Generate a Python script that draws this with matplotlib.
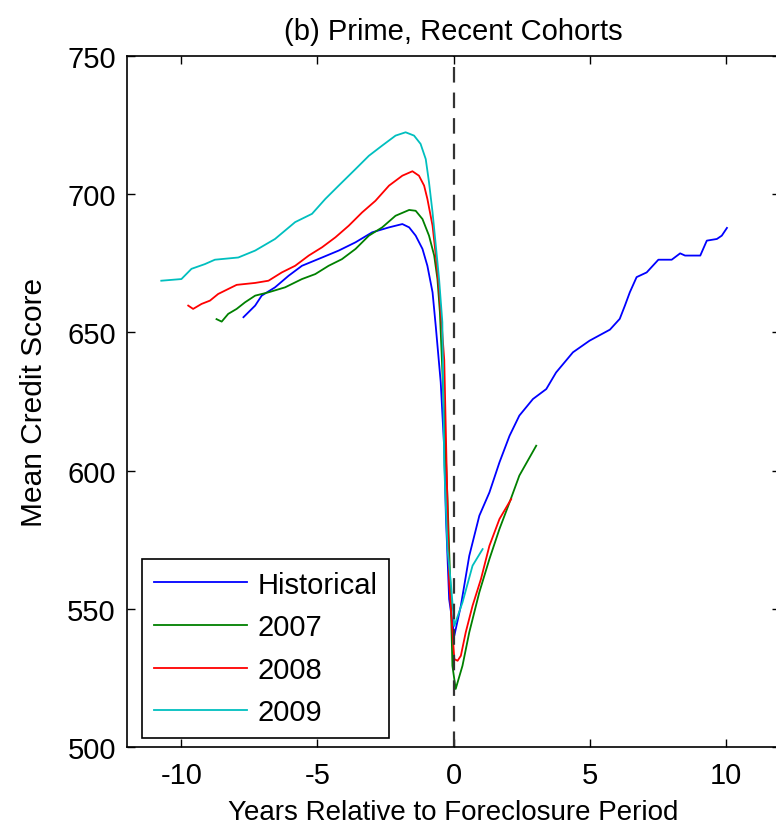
import matplotlib
matplotlib.use('Agg')
import matplotlib.pyplot as plt

plt.rcParams['font.family'] = ['Liberation Sans', 'DejaVu Sans']
plt.rcParams['axes.unicode_minus'] = False

# Historical (blue)
hist_x = [-7.72, -7.29, -7.05, -6.56, -6.06, -5.57, -4.83, -4.22, -3.60, -2.99,
          -2.37, -1.88, -1.63, -1.39, -1.14, -0.96, -0.77, -0.65, -0.47, -0.34,
          -0.28, -0.16, 0.03, 0.27, 0.58, 0.95, 1.32, 1.69, 2.06, 2.42,
          2.92, 3.41, 3.77, 4.39, 5.00, 5.75, 6.11, 6.30, 6.48, 6.73,
          7.10, 7.53, 8.02, 8.33, 8.51, 9.07, 9.31, 9.68, 9.86, 10.05]
hist_y = [655.5, 659.7, 663.3, 666.3, 670.5, 674.1, 677.1, 679.6, 682.6, 686.2,
          688.0, 689.2, 688.0, 685.0, 680.2, 674.1, 664.5, 652.0, 632.0, 607.8,
          583.7, 553.5, 540.3, 551.1, 569.2, 583.7, 592.1, 603.0, 612.6, 619.9,
          625.9, 629.5, 635.5, 642.8, 647.0, 651.0, 654.9, 659.7, 664.5, 670.0,
          671.7, 676.3, 676.3, 678.6, 677.8, 677.8, 683.2, 683.8, 685.0, 687.8]

# 2007 cohort (green)
c07_x = [-8.71, -8.52, -8.28, -7.97, -7.66, -7.29, -6.80, -6.19, -5.57, -5.08,
         -4.59, -4.10, -3.60, -3.11, -2.62, -2.13, -1.63, -1.39, -1.14, -0.90,
         -0.71, -0.59, -0.50, -0.34, -0.22, -0.10, -0.04, 0.08, 0.33, 0.58,
         0.95, 1.32, 1.69, 2.06, 2.42, 3.04]
c07_y = [654.8, 653.9, 656.7, 658.5, 660.9, 663.3, 664.5, 666.3, 669.3, 671.1,
         674.1, 676.5, 680.2, 685.0, 688.0, 692.2, 694.3, 694.0, 691.0, 685.0,
         677.8, 669.3, 657.3, 620.0, 589.7, 553.5, 529.4, 521.0, 529.4, 541.5,
         556.0, 568.0, 578.9, 588.5, 598.2, 609.0]

# 2008 cohort (red)
c08_x = [-9.75, -9.57, -9.26, -8.95, -8.65, -8.28, -7.97, -7.29, -6.80, -6.31,
         -5.82, -5.32, -4.83, -4.34, -3.85, -3.36, -2.87, -2.37, -1.88, -1.51,
         -1.27, -1.08, -0.96, -0.77, -0.65, -0.53, -0.34, -0.16, 0.03, 0.15,
         0.27, 0.45, 0.70, 1.01, 1.32, 1.69, 2.12]
c08_y = [659.7, 658.5, 660.3, 661.5, 663.9, 665.7, 667.2, 667.9, 668.7, 671.7,
         674.1, 677.8, 680.8, 684.4, 688.6, 693.4, 697.6, 703.1, 706.7, 708.3,
         706.7, 703.1, 698.3, 688.6, 677.8, 665.7, 640.0, 559.7, 531.8, 531.2,
         533.0, 541.5, 551.1, 560.8, 572.8, 582.5, 589.7]

# 2009 cohort (cyan)
c09_x = [-10.74, -10.00, -9.63, -9.14, -8.77, -7.91, -7.29, -6.56, -5.82, -5.20,
         -4.71, -4.22, -3.60, -3.11, -2.62, -2.13, -1.76, -1.45, -1.21, -1.02,
         -0.90, -0.77, -0.65, -0.53, -0.41, -0.34, -0.22, -0.10, 0.03, 0.33,
         0.70, 1.07]
c09_y = [668.7, 669.3, 673.0, 674.7, 676.3, 677.1, 679.6, 683.8, 689.9, 692.9,
         698.3, 703.1, 709.1, 713.9, 717.6, 721.2, 722.4, 721.2, 718.2, 712.7,
         704.3, 693.4, 681.4, 669.3, 653.7, 601.8, 571.6, 559.6, 543.8, 552.3,
         565.6, 571.6]

xticks = [-10, -5, 0, 5, 10]
yticks = [500, 550, 600, 650, 700, 750]

fig = plt.figure(figsize=(7.76, 8.28), dpi=100)
ax = fig.add_axes([127 / 776, 80 / 828, 653 / 776, 691 / 828])

fs = 21
lw = 1.3
ax.plot(hist_x, hist_y, color='#0000ff', lw=lw, label='Historical')
ax.plot(c07_x, c07_y, color='#008000', lw=lw, label='2007')
ax.plot(c08_x, c08_y, color='#ff0000', lw=lw, label='2008')
ax.plot(c09_x, c09_y, color='#00bfbf', lw=lw, label='2009')
ax.axvline(0, color='#333333', lw=1.6, ls=(0, (7, 4.5)))

ax.set_xlim(-12, 12)
ax.set_ylim(500, 750)
ax.set_xticks(xticks)
ax.set_yticks(yticks)
ax.tick_params(direction='in', length=6, width=1, top=True, right=True,
               labelsize=fs)
ax.tick_params(axis='x', pad=10)
ax.tick_params(axis='y', pad=8)
for s in ax.spines.values():
    s.set_linewidth(1.2)

ax.set_title('(b) Prime, Recent Cohorts', fontsize=fs, pad=12)
ax.set_xlabel('Years Relative to Foreclosure Period', fontsize=20, labelpad=7)
ax.set_ylabel('Mean Credit Score', fontsize=21.5, labelpad=14)

leg = ax.legend(loc='lower left', bbox_to_anchor=(0.023, 0.013), fontsize=fs,
                fancybox=False, framealpha=1, edgecolor='black',
                handlelength=3.2, borderaxespad=0, borderpad=0.4,
                labelspacing=0.5, handletextpad=0.35)
leg.get_frame().set_linewidth(1.2)

fig.savefig('out.png', dpi=100)
